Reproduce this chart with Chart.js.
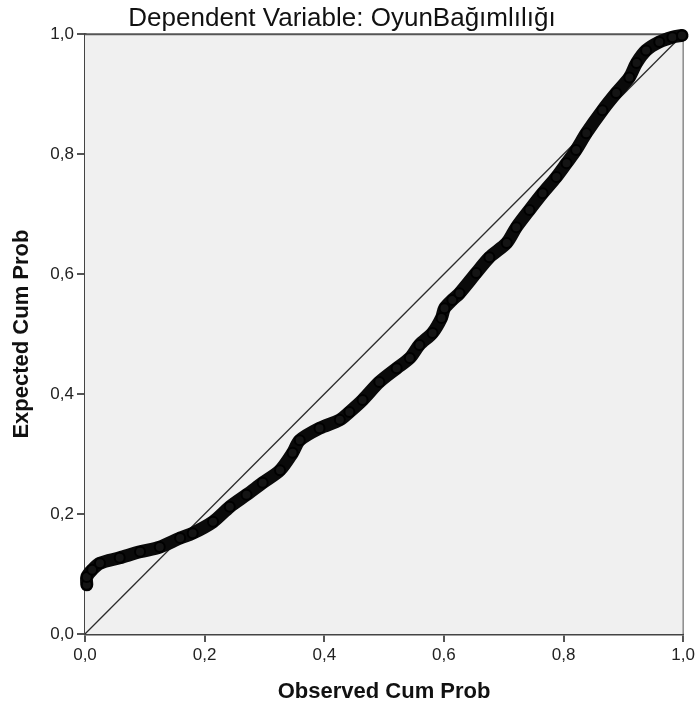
<!DOCTYPE html>
<html>
<head>
<meta charset="utf-8">
<script src="https://cdn.jsdelivr.net/npm/chart.js@4"></script>
<style>

	html, body { margin: 0; padding: 0; background: #ffffff; }
	#wrap { width: 698px; height: 713px; }

</style>
</head>
<body>
<div id="wrap"><canvas id="pp" width="698" height="713"></canvas></div>
<script>

const titleText = 'Dependent Variable: OyunBağımlılığı';
const xTitle = 'Observed Cum Prob';
const yTitle = 'Expected Cum Prob';

const tickValues = [ 0, 0.2, 0.4, 0.6, 0.8, 1.0 ];

// points
const observed = [
	0.003, 0.003, 0.012, 0.025, 0.058, 0.092, 0.125, 0.159, 0.180, 0.214,
	0.242, 0.270, 0.297, 0.326, 0.347, 0.359, 0.392, 0.426, 0.442, 0.464,
	0.492, 0.521, 0.543, 0.559, 0.581, 0.596, 0.601, 0.614, 0.626, 0.654,
	0.676, 0.705, 0.721, 0.743, 0.765, 0.788, 0.805, 0.821, 0.838, 0.865,
	0.888, 0.910, 0.922, 0.938, 0.960, 0.982, 0.998
];

const expected = [
	0.082, 0.095, 0.107, 0.118, 0.127, 0.137, 0.145, 0.160, 0.168, 0.187,
	0.212, 0.232, 0.252, 0.273, 0.302, 0.323, 0.343, 0.357, 0.370, 0.390,
	0.420, 0.443, 0.460, 0.482, 0.502, 0.527, 0.543, 0.557, 0.568, 0.602,
	0.628, 0.652, 0.678, 0.707, 0.735, 0.762, 0.785, 0.807, 0.835, 0.873,
	0.902, 0.928, 0.952, 0.973, 0.987, 0.995, 0.998
];

const refX = [ 0, 1 ];
const refY = [ 0, 1 ];

const fontFamily = "'Liberation Sans', Arial, sans-serif";

const frame = {

	id: 'frame',

	beforeDatasetsDraw ( chart ) {

		const { ctx, chartArea: a } = chart;

		ctx.save();
		ctx.fillStyle = '#f0f0f0';
		ctx.fillRect( a.left, a.top, a.right - a.left, a.bottom - a.top );

		ctx.strokeStyle = '#8a8a8a';
		ctx.lineWidth = 1.5;
		ctx.beginPath();
		ctx.moveTo( a.right, a.top );
		ctx.lineTo( a.right, a.bottom );
		ctx.stroke();

		ctx.strokeStyle = '#555555';
		ctx.lineWidth = 2;
		ctx.beginPath();
		ctx.moveTo( a.left, a.top );
		ctx.lineTo( a.right, a.top );
		ctx.stroke();
		ctx.restore();

	}

};

const pairs = ( xs, ys ) => xs.map( ( x, i ) => ( { x: x, y: ys[ i ] } ) );

const fmt = v => v.toFixed( 1 ).replace( '.', ',' );

const config = {
	type: 'scatter',
	data: {
		datasets: [ {
			data: pairs( observed, expected ),
			showLine: true,
			tension: 0.3,
			borderColor: '#0a0a0a',
			borderWidth: 13,
			borderCapStyle: 'round',
			borderJoinStyle: 'round',
			pointRadius: 5,
			pointBorderWidth: 2,
			pointBorderColor: '#000000',
			pointBackgroundColor: '#141414',
			clip: false,
			order: 1
		}, {
			data: pairs( refX, refY ),
			showLine: true,
			borderColor: '#2b2b2b',
			borderWidth: 1.3,
			pointRadius: 0,
			order: 2
		} ]
	},
	options: {
		responsive: false,
		animation: false,
		devicePixelRatio: 1,
		layout: {
			padding: { top: 0, left: 0, right: 14, bottom: 0 }
		},
		plugins: {
			legend: { display: false },
			tooltip: { enabled: false },
			title: {
				display: true,
				text: titleText,
				color: '#111111',
				font: { family: fontFamily, size: 26, weight: 'normal', lineHeight: 1.2 },
				padding: { top: 3, bottom: 0 }
			}
		},
		scales: {
			x: {
				type: 'linear',
				min: 0,
				max: 1,
				afterFit: scale => { scale.height = 79; },
				afterBuildTicks: scale => { scale.ticks = tickValues.map( v => ( { value: v } ) ); },
				ticks: {
					callback: fmt,
					color: '#222222',
					padding: 3,
					maxRotation: 0,
					font: { family: fontFamily, size: 17 }
				},
				grid: {
					drawOnChartArea: false,
					drawTicks: true,
					tickLength: 8,
					color: '#555555',
					lineWidth: 2
				},
				border: { display: true, color: '#444444', width: 2.5 },
				title: {
					display: true,
					text: xTitle,
					color: '#111111',
					font: { family: fontFamily, size: 22, weight: 'bold', lineHeight: 1.2 },
					padding: { top: 0, bottom: 8 }
				}
			},
			y: {
				type: 'linear',
				min: 0,
				max: 1,
				afterFit: scale => { scale.width = 85; },
				afterBuildTicks: scale => { scale.ticks = tickValues.map( v => ( { value: v } ) ); },
				ticks: {
					callback: fmt,
					color: '#222222',
					padding: 3,
					font: { family: fontFamily, size: 17 }
				},
				grid: {
					drawOnChartArea: false,
					drawTicks: true,
					tickLength: 8,
					color: '#555555',
					lineWidth: 2
				},
				border: { display: true, color: '#444444', width: 2.5 },
				title: {
					display: true,
					text: yTitle,
					color: '#111111',
					font: { family: fontFamily, size: 22, weight: 'bold', lineHeight: 1.2 },
					padding: { top: 9, bottom: 0 }
				}
			}
		}
	},
	plugins: [ frame ]
};

new Chart( document.getElementById( 'pp' ), config );

</script>
</body>
</html>
